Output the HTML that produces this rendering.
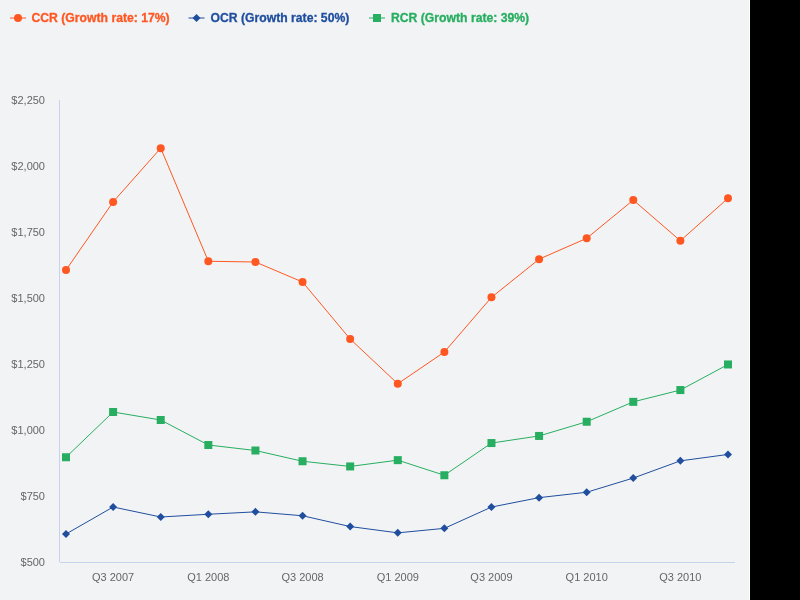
<!DOCTYPE html>
<html><head><meta charset="utf-8"><style>
html,body{margin:0;padding:0;background:#000;width:800px;height:600px;overflow:hidden}
#c{position:absolute;left:0;top:0;width:749px;height:600px;background:#F2F3F5;border-right:1px solid #fff}
svg{position:absolute;left:0;top:0;font-family:"Liberation Sans",sans-serif;will-change:transform}
.ax{font-size:11px;fill:#666}
.lg{font-size:12.2px;font-weight:bold;stroke-width:0.3px}
</style></head><body><div id="c">
<svg width="750" height="600" viewBox="0 0 750 600">
<line x1="59.5" y1="100" x2="59.5" y2="562" stroke="#C6D3EA" stroke-width="1"/><line x1="60" y1="562.5" x2="735" y2="562.5" stroke="#C6D3EA" stroke-width="1"/>
<g class="ax"><text x="45" y="566.0" text-anchor="end">$500</text><text x="45" y="500.0" text-anchor="end">$750</text><text x="45" y="434.0" text-anchor="end">$1,000</text><text x="45" y="368.0" text-anchor="end">$1,250</text><text x="45" y="302.0" text-anchor="end">$1,500</text><text x="45" y="236.0" text-anchor="end">$1,750</text><text x="45" y="170.0" text-anchor="end">$2,000</text><text x="45" y="104.0" text-anchor="end">$2,250</text><text x="113.10" y="581" text-anchor="middle">Q3 2007</text><text x="208.34" y="581" text-anchor="middle">Q1 2008</text><text x="302.54" y="581" text-anchor="middle">Q3 2008</text><text x="397.78" y="581" text-anchor="middle">Q1 2009</text><text x="491.46" y="581" text-anchor="middle">Q3 2009</text><text x="586.70" y="581" text-anchor="middle">Q1 2010</text><text x="680.38" y="581" text-anchor="middle">Q3 2010</text></g>
<polyline points="66.00,270.05 113.10,201.95 160.72,148.15 208.34,261.25 255.44,262.00 302.54,282.00 350.16,339.00 397.78,383.75 444.36,352.05 491.46,297.35 539.08,259.15 586.70,238.30 633.28,200.05 680.38,240.75 728.00,198.25" fill="none" stroke="#FF5722" stroke-width="1" stroke-linejoin="round"/><polyline points="66.00,457.25 113.10,412.00 160.72,420.00 208.34,445.00 255.44,450.50 302.54,461.25 350.16,466.45 397.78,460.15 444.36,475.25 491.46,443.05 539.08,435.95 586.70,421.75 633.28,401.85 680.38,390.05 728.00,364.45" fill="none" stroke="#27AE60" stroke-width="1" stroke-linejoin="round"/><polyline points="66.00,534.00 113.10,507.00 160.72,517.00 208.34,514.25 255.44,511.85 302.54,515.75 350.16,526.55 397.78,532.85 444.36,528.35 491.46,507.05 539.08,497.65 586.70,492.25 633.28,478.05 680.38,460.85 728.00,454.45" fill="none" stroke="#1F4E9E" stroke-width="1" stroke-linejoin="round"/><circle cx="66.00" cy="270.05" r="4" fill="#FF5722"/><circle cx="113.10" cy="201.95" r="4" fill="#FF5722"/><circle cx="160.72" cy="148.15" r="4" fill="#FF5722"/><circle cx="208.34" cy="261.25" r="4" fill="#FF5722"/><circle cx="255.44" cy="262.00" r="4" fill="#FF5722"/><circle cx="302.54" cy="282.00" r="4" fill="#FF5722"/><circle cx="350.16" cy="339.00" r="4" fill="#FF5722"/><circle cx="397.78" cy="383.75" r="4" fill="#FF5722"/><circle cx="444.36" cy="352.05" r="4" fill="#FF5722"/><circle cx="491.46" cy="297.35" r="4" fill="#FF5722"/><circle cx="539.08" cy="259.15" r="4" fill="#FF5722"/><circle cx="586.70" cy="238.30" r="4" fill="#FF5722"/><circle cx="633.28" cy="200.05" r="4" fill="#FF5722"/><circle cx="680.38" cy="240.75" r="4" fill="#FF5722"/><circle cx="728.00" cy="198.25" r="4" fill="#FF5722"/><rect x="62.00" y="453.25" width="8" height="8" fill="#27AE60"/><rect x="109.10" y="408.00" width="8" height="8" fill="#27AE60"/><rect x="156.72" y="416.00" width="8" height="8" fill="#27AE60"/><rect x="204.34" y="441.00" width="8" height="8" fill="#27AE60"/><rect x="251.44" y="446.50" width="8" height="8" fill="#27AE60"/><rect x="298.54" y="457.25" width="8" height="8" fill="#27AE60"/><rect x="346.16" y="462.45" width="8" height="8" fill="#27AE60"/><rect x="393.78" y="456.15" width="8" height="8" fill="#27AE60"/><rect x="440.36" y="471.25" width="8" height="8" fill="#27AE60"/><rect x="487.46" y="439.05" width="8" height="8" fill="#27AE60"/><rect x="535.08" y="431.95" width="8" height="8" fill="#27AE60"/><rect x="582.70" y="417.75" width="8" height="8" fill="#27AE60"/><rect x="629.28" y="397.85" width="8" height="8" fill="#27AE60"/><rect x="676.38" y="386.05" width="8" height="8" fill="#27AE60"/><rect x="724.00" y="360.45" width="8" height="8" fill="#27AE60"/><path d="M66.00 530.00 L70.00 534.00 L66.00 538.00 L62.00 534.00 Z" fill="#1F4E9E"/><path d="M113.10 503.00 L117.10 507.00 L113.10 511.00 L109.10 507.00 Z" fill="#1F4E9E"/><path d="M160.72 513.00 L164.72 517.00 L160.72 521.00 L156.72 517.00 Z" fill="#1F4E9E"/><path d="M208.34 510.25 L212.34 514.25 L208.34 518.25 L204.34 514.25 Z" fill="#1F4E9E"/><path d="M255.44 507.85 L259.44 511.85 L255.44 515.85 L251.44 511.85 Z" fill="#1F4E9E"/><path d="M302.54 511.75 L306.54 515.75 L302.54 519.75 L298.54 515.75 Z" fill="#1F4E9E"/><path d="M350.16 522.55 L354.16 526.55 L350.16 530.55 L346.16 526.55 Z" fill="#1F4E9E"/><path d="M397.78 528.85 L401.78 532.85 L397.78 536.85 L393.78 532.85 Z" fill="#1F4E9E"/><path d="M444.36 524.35 L448.36 528.35 L444.36 532.35 L440.36 528.35 Z" fill="#1F4E9E"/><path d="M491.46 503.05 L495.46 507.05 L491.46 511.05 L487.46 507.05 Z" fill="#1F4E9E"/><path d="M539.08 493.65 L543.08 497.65 L539.08 501.65 L535.08 497.65 Z" fill="#1F4E9E"/><path d="M586.70 488.25 L590.70 492.25 L586.70 496.25 L582.70 492.25 Z" fill="#1F4E9E"/><path d="M633.28 474.05 L637.28 478.05 L633.28 482.05 L629.28 478.05 Z" fill="#1F4E9E"/><path d="M680.38 456.85 L684.38 460.85 L680.38 464.85 L676.38 460.85 Z" fill="#1F4E9E"/><path d="M728.00 450.45 L732.00 454.45 L728.00 458.45 L724.00 454.45 Z" fill="#1F4E9E"/>

<line x1="10" y1="18" x2="26" y2="18" stroke="#FF5722" stroke-width="1"/><circle cx="18" cy="18" r="4" fill="#FF5722"/>
<text x="31.5" y="22" fill="#FF5722" stroke="#FF5722" class="lg">CCR (Growth rate: 17%)</text>
<line x1="188.5" y1="18" x2="204.5" y2="18" stroke="#1F4E9E" stroke-width="1"/><path d="M196.5 14 L200.5 18 L196.5 22 L192.5 18Z" fill="#1F4E9E"/>
<text x="210.5" y="22" fill="#1F4E9E" stroke="#1F4E9E" class="lg">OCR (Growth rate: 50%)</text>
<line x1="369" y1="18" x2="385" y2="18" stroke="#27AE60" stroke-width="1"/><rect x="373" y="14" width="8" height="8" fill="#27AE60"/>
<text x="391" y="22" fill="#27AE60" stroke="#27AE60" class="lg">RCR (Growth rate: 39%)</text>

</svg></div></body></html>
